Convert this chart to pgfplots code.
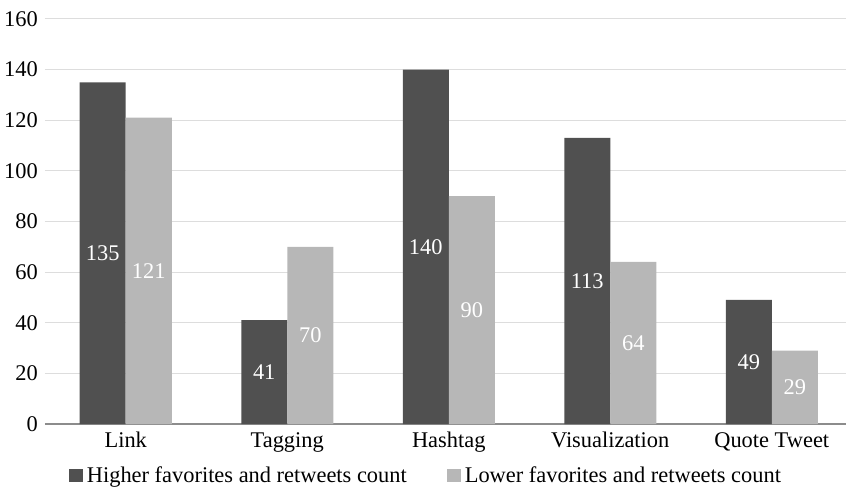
\documentclass[border=0pt]{standalone}
\usepackage{fontspec}
\setmainfont{Liberation Serif}
\usepackage{pgfplots}
\pgfplotsset{compat=1.18}
\definecolor{darkbar}{HTML}{505050}
\definecolor{lightbar}{HTML}{B7B7B7}
\definecolor{gridgray}{HTML}{DDDDDD}
\definecolor{axisgray}{HTML}{8C8C8C}
\newcommand{\chartfont}{\fontsize{22.5}{26}\selectfont}
\begin{document}
\begin{tikzpicture}
\begin{axis}[
  at={(0,0)}, anchor=south west,
  scale only axis, width=807.5bp, height=405bp,
  xmin=-0.5, xmax=4.5, ymin=0, ymax=160,
  enlargelimits=false, clip=false,
  ybar=0pt, bar width=46bp,
  xtick={0,...,4},
  xticklabels={Link,Tagging,Hashtag,Visualization,Quote Tweet},
  ytick={0,20,...,160},
  major tick length=0pt,
  axis x line*=bottom, axis y line*=left,
  x axis line style={draw=axisgray, line width=1.3bp, -},
  y axis line style={draw=none},
  ymajorgrids, grid style={gridgray, line width=1bp},
  tick label style={font=\chartfont, text=black},
  /pgf/number format/assume math mode=true,
  yticklabel style={inner sep=0pt, xshift=-7bp},
  xticklabel style={inner sep=0pt, yshift=-8bp},
  nodes near coords,
  visualization depends on={rawy \as \rawy},
  nodes near coords style={anchor=center, text=white,
    font=\chartfont, yshift=-1.265625*\rawy*1bp},
  legend columns=2,
  legend cell align=left,
  legend style={draw=none, at={(0.473,-0.126)}, anchor=center,
    font=\chartfont, nodes={inner ysep=2bp, inner xsep=4bp},
    /tikz/every even column/.append style={column sep=36bp}},
  legend image code/.code={\fill[#1] (0bp,-6.5bp) rectangle (14bp,6.5bp);},
]
\addplot[fill=darkbar, draw=none] coordinates {(0,135) (1,41) (2,140) (3,113) (4,49)};
\addplot[fill=lightbar, draw=none] coordinates {(0,121) (1,70) (2,90) (3,64) (4,29)};
\legend{Higher favorites and retweets count, Lower favorites and retweets count}
\end{axis}
\pgfresetboundingbox
\path (-45bp,-64bp) rectangle (801bp,424bp);
\end{tikzpicture}
\end{document}
